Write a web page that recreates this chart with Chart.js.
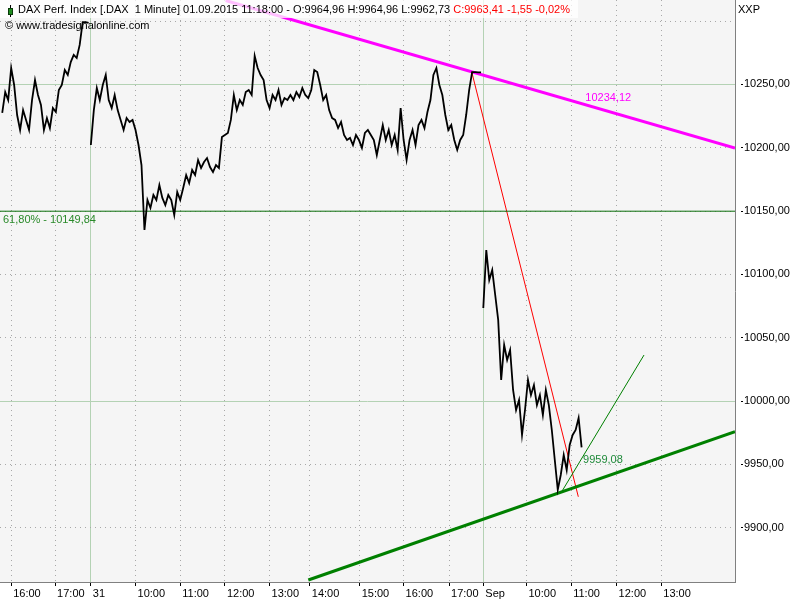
<!DOCTYPE html>
<html>
<head>
<meta charset="utf-8">
<script src="https://cdn.jsdelivr.net/npm/chart.js@4.4.0/dist/chart.umd.min.js"></script>
<style>
  body { margin: 0; background: #fff; }
  canvas { display: block; }
</style>
</head>
<body>
<canvas id="chart" width="800" height="600"></canvas>
<script>
'use strict';
// 1 minute DAX prices, one value every STEP bars
var STEP = 4;

var aug28Start = 0;
var aug28Prices = [
  10227.4, 10243.9, 10237.6, 10262.9, 10249.5, 10225.8, 10214.0, 10229.7, 10221.9, 10214.0,
  10237.6, 10253.4, 10241.6, 10233.7, 10214.0, 10223.4, 10215.5, 10231.3, 10228.2, 10245.5,
  10249.5, 10261.3, 10257.4, 10267.6, 10273.2, 10270.8, 10281.1, 10299.2, 10299.2, 10298.5
];

var aug31Start = 119;
var aug31Prices = [
  10202.1, 10229.7, 10247.1, 10237.6, 10249.5, 10257.4, 10237.6, 10231.3, 10241.6, 10229.7,
  10221.9, 10214.0, 10223.4, 10220.3, 10221.9, 10214.0, 10202.1, 10186.3, 10135.0, 10158.7,
  10152.4, 10162.7, 10158.7, 10170.5, 10160.3, 10154.7, 10162.7, 10158.7, 10146.9, 10165.0,
  10158.7, 10168.2, 10178.4, 10172.1, 10182.4, 10178.4, 10190.3, 10184.0, 10188.7, 10191.8,
  10184.7, 10180.8, 10186.3, 10184.0, 10208.4, 10210.0, 10211.6, 10221.9, 10241.6, 10229.7,
  10237.6, 10233.7, 10243.9, 10245.5, 10241.6, 10272.4, 10262.9, 10257.4, 10253.4, 10237.6,
  10231.3, 10241.6, 10237.6, 10245.5, 10233.7, 10239.2, 10237.6, 10241.6, 10237.6, 10243.9,
  10240.0, 10247.1, 10241.6, 10239.2, 10245.5, 10261.3, 10259.7, 10249.5, 10237.6, 10241.6,
  10229.7, 10223.4, 10221.9, 10215.5, 10220.3, 10210.0, 10206.1, 10207.7, 10202.1, 10210.0,
  10206.1, 10199.8, 10211.6, 10214.0, 10210.0, 10206.1, 10194.2, 10206.1, 10217.9, 10206.1,
  10214.0, 10202.1, 10210.0, 10198.2, 10231.3, 10206.1, 10190.3, 10206.1, 10214.0, 10202.1,
  10217.9, 10221.9, 10215.5, 10228.2, 10237.6, 10257.4, 10262.9, 10249.5, 10241.6, 10225.8,
  10214.0, 10217.9, 10206.1, 10198.2, 10206.1, 10210.0, 10225.8, 10245.5, 10259.7, 10259.7,
  10259.5, 10259.5
];

var sep01Start = 646;
var sep01Prices = [
  10073.4, 10119.2, 10095.5, 10103.4, 10083.7, 10064.0, 10016.6, 10044.2, 10032.4, 10040.3,
  10008.7, 9992.9, 10000.8, 9973.2, 9992.9, 10016.6, 10004.7, 10012.6, 9996.8, 10004.7,
  9988.9, 10008.7, 9996.8, 9977.1, 9953.4, 9930.0, 9941.6, 9957.4, 9945.5, 9965.3,
  9973.2, 9977.1, 9986.6, 9963.4
];

var xTickBars = [12, 71, 119, 179, 239, 299, 359, 413, 480, 539, 600, 646, 704, 764, 825, 885];
var xTickLabels = ['16:00', '17:00', '31', '10:00', '11:00', '12:00', '13:00', '14:00', '15:00',
  '16:00', '17:00', 'Sep', '10:00', '11:00', '12:00', '13:00'];
var dayBreakLabels = ['31', 'Sep'];

var yTickValues = [9900, 9950, 10000, 10050, 10100, 10150, 10200, 10250, 10300];
var yTickLabels = ['9900,00', '9950,00', '10000,00', '10050,00', '10100,00', '10150,00',
  '10200,00', '10250,00', ''];
var solidGridValues = [10000, 10250];

// drawn trend lines (bar, value)
var resistBars = [300, 984];
var resistValues = [10316.2, 10199.7];
var downBars = [630.4, 773.6];
var downValues = [10260.0, 9924.4];
var supportBars = [411, 984];
var supportValues = [9858.7, 9975.8];
var fanBars = [751.3, 861.8];
var fanValues = [9928.4, 10036.3];
var fibLevel = 10149.84;

var headerText = 'DAX Perf. Index [.DAX  1 Minute] 01.09.2015 11:18:00 - O:9964,96 H:9964,96 L:9962,73 ';
var headerChange = 'C:9963,41 -1,55 -0,02%';
var copyrightText = '\u00a9 www.tradesignalonline.com';
var resistLabel = '10234,12';
var supportLabel = '9959,08';
var fibLabel = '61,80% - 10149,84';

var FONT = '"Liberation Sans", Arial, sans-serif';
Chart.defaults.font.family = FONT;

function toPoints(start, prices){
  return prices.map(function(p, i){
    return {x: start + i * STEP, y: p};
  });
}

function pairPoints(bars, values){
  return bars.map(function(b, i){
    return {x: b, y: values[i]};
  });
}

function priceSet(points){
  return {data: points, borderColor: '#000000', borderWidth: 1.8};
}

var chartPlugin = {
  id: 'tradesignal',
  beforeDraw: function(chart){
    var c = chart.ctx;
    var a = chart.chartArea;
    c.save();
    c.fillStyle = '#ffffff';
    c.fillRect(0, 0, chart.width, chart.height);
    c.fillStyle = '#f5f5f5';
    c.fillRect(a.left, a.top, a.right - a.left, a.bottom - a.top);
    c.restore();
  },
  afterDatasetsDraw: function(chart){
    var c = chart.ctx;
    var xs = chart.scales.x;
    var ys = chart.scales.y;
    c.save();
    c.font = '11px ' + FONT;
    c.textBaseline = 'middle';
    c.textAlign = 'left';

    c.fillStyle = '#ff00ff';
    c.fillText(resistLabel, xs.getPixelForValue(783), ys.getPixelForValue(10239.6));
    c.fillStyle = '#1f8a3a';
    c.fillText(supportLabel, xs.getPixelForValue(780), ys.getPixelForValue(9953.4));
    c.fillStyle = '#2a8a2a';
    c.fillText(fibLabel, xs.getPixelForValue(1), ys.getPixelForValue(10142.9));

    // header box
    c.fillStyle = 'rgba(255,255,255,0.75)';
    c.fillRect(0, 0, 578, 18);
    c.fillStyle = '#000000';
    c.fillText(headerText, 18, 10);
    var w = c.measureText(headerText).width;
    c.fillStyle = '#ff0000';
    c.fillText(headerChange, 18 + w, 10);
    c.fillStyle = '#000000';
    c.fillText(copyrightText, 5, 26);

    // little bar icon
    c.strokeStyle = '#000000';
    c.lineWidth = 1;
    c.beginPath();
    c.moveTo(10.5, 5);
    c.lineTo(10.5, 17);
    c.stroke();
    c.fillStyle = '#1e8c1e';
    c.fillRect(8, 8, 5, 7);
    c.strokeStyle = '#0a3a0a';
    c.strokeRect(8.5, 8.5, 4, 6);

    c.fillStyle = '#000000';
    c.fillText('XXP', 738, 10);
    c.restore();
  }
};

var ctx = document.getElementById('chart').getContext('2d');

new Chart(ctx, {
  type: 'line',
  data: {
    datasets: [
      priceSet(toPoints(aug28Start, aug28Prices)),
      priceSet(toPoints(aug31Start, aug31Prices)),
      priceSet(toPoints(sep01Start, sep01Prices)),
      {data: [{x: -3, y: fibLevel}, {x: 984, y: fibLevel}], borderColor: '#0b6e0b', borderWidth: 1},
      {data: pairPoints(supportBars, supportValues), borderColor: '#008000', borderWidth: 3},
      {data: pairPoints(fanBars, fanValues), borderColor: '#008000', borderWidth: 1},
      {data: pairPoints(downBars, downValues), borderColor: '#ff0000', borderWidth: 1},
      {data: pairPoints(resistBars, resistValues), borderColor: '#ff00ff', borderWidth: 3},
    ],
  },
  options: {
    responsive: false,
    animation: false,
    devicePixelRatio: 1,
    layout: {padding: 0},
    elements: {
      point: {radius: 0, hoverRadius: 0},
      line: {tension: 0, fill: false},
    },
    plugins: {
      legend: {display: false},
      tooltip: {enabled: false},
    },
    events: [],
    scales: {
      x: {
        type: 'linear',
        position: 'bottom',
        min: -3,
        max: 984,
        afterBuildTicks: function(scale){
          scale.ticks = xTickBars.map(function(v){ return {value: v}; });
        },
        afterFit: function(scale){
          scale.height = 18;
          scale.paddingLeft = 0;
          scale.paddingRight = 0;
        },
        ticks: {
          autoSkip: false,
          maxRotation: 0,
          minRotation: 0,
          align: 'start',
          labelOffset: 2,
          padding: 1,
          color: '#000000',
          font: {size: 11},
          callback: function(value, index){
            return xTickLabels[index];
          },
        },
        grid: {
          color: function(c){
            return dayBreakLabels.indexOf(xTickLabels[c.index]) > -1 ? '#b4d2b4' : '#a8a8a8';
          },
          lineWidth: 1,
          tickLength: 4,
          tickColor: '#000000',
        },
        border: {
          color: '#808080',
          width: 1,
          dash: function(c){
            if (c.tick && dayBreakLabels.indexOf(xTickLabels[c.index]) > -1) return [];
            return [1, 4];
          },
        },
      },
      y: {
        type: 'linear',
        position: 'right',
        min: 9857.1,
        max: 10316.6,
        afterBuildTicks: function(scale){
          scale.ticks = yTickValues.map(function(v){ return {value: v}; });
        },
        afterFit: function(scale){
          scale.width = 65;
          scale.paddingTop = 0;
          scale.paddingBottom = 0;
        },
        ticks: {
          padding: 1,
          color: '#000000',
          font: {size: 11},
          callback: function(value, index){
            return yTickLabels[index];
          },
        },
        grid: {
          color: function(c){
            return c.tick && solidGridValues.indexOf(c.tick.value) > -1 ? '#b4d2b4' : '#a8a8a8';
          },
          lineWidth: 1,
          tickLength: 8,
          tickColor: function(c){
            return c.tick && yTickLabels[c.index] ? '#000000' : 'rgba(0,0,0,0)';
          },
          tickBorderDash: [0, 5, 3, 50],
        },
        border: {
          color: '#808080',
          width: 1,
          dash: function(c){
            if (c.tick && solidGridValues.indexOf(c.tick.value) > -1) return [];
            return [1, 4];
          },
        },
      },
    },
  },
  plugins: [chartPlugin],
});
</script>
</body>
</html>
